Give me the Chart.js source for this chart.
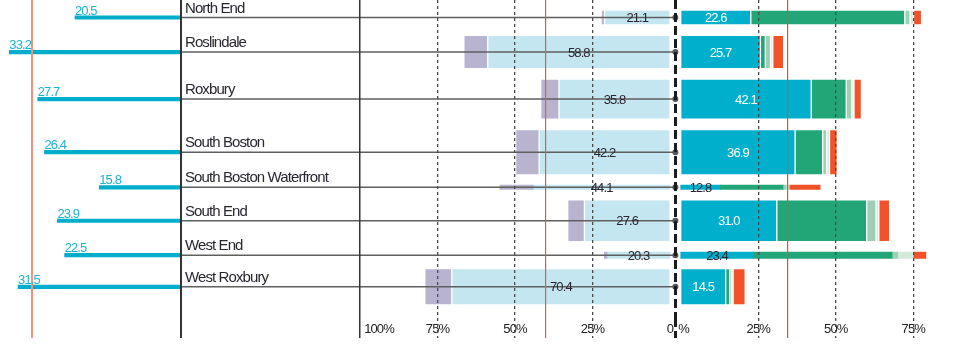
<!DOCTYPE html>
<html><head><meta charset="utf-8">
<script src="https://cdn.jsdelivr.net/npm/chart.js@4/dist/chart.umd.min.js"></script>
<style>html,body{margin:0;padding:0;background:#fff;}canvas{display:block;}</style>
</head><body>
<canvas id="c" width="968" height="355"></canvas>
<script>
// ---------------- DATA ----------------
const neighborhoods = ['North End','Roslindale','Roxbury','South Boston','South Boston Waterfront','South End','West End','West Roxbury'];
const rowWeights = [15, 33.3, 40, 45.3, 4.3, 41.7, 6.3, 36.3];       // relative row thickness
const panelValues = [20.5, 33.2, 27.7, 26.4, 15.8, 23.9, 22.5, 31.5];
const leftMain  = [21.1, 58.8, 35.8, 42.2, 44.1, 27.6, 20.3, 70.4];
const leftExtra = [1.1, 7.7, 5.9, 7.6, 10.8, 5.4, 0.9, 8.7];
const rightMain = [22.6, 25.7, 42.1, 36.9, 12.8, 31.0, 23.4, 14.5];
const rightGreen = [49.7, 1.6, 11.3, 8.9, 20.4, 29.0, 45.0, 1.3];
const rightLightGreen = [1.7, 1.7, 1.8, 1.3, 1.0, 3.0, 1.8, 0.5];
const rightPale = [1.1, 0.7, 0.7, 0.9, 1.0, 0.9, 5.0, 0.6];
const rightOrange = [2.6, 3.5, 2.4, 2.5, 9.8, 3.5, 3.9, 3.9];
const averages = [28.9, 40.1, 34.5];   // panel, left side, right side
const leftTicks = [0, 25, 50, 75, 100];
const leftTickLabels = ['0', '25%', '50%', '75%', '100%'];
const rightTicks = [0, 25, 50, 75];
const rightTickLabels = ['\u2002%', '25%', '50%', '75%'];

// ---------------- LAYOUT ----------------
const FONT = "'Liberation Sans',Arial,sans-serif";
const LETTER = '-0.9px';
const W = 968, H = 355;
const PANEL_W = 181, PANEL_MAX = 35;
const PCT_PX = 3.1, HALF_GAP = 1.73;
const MID_W = 494.35, RIGHT_W = W - PANEL_W - MID_W;
const midMax = MID_W / PCT_PX - HALF_GAP;
const rightMax = RIGHT_W / PCT_PX - HALF_GAP;
const ROW_GAP = 10.4, TOP_PAD = 10;
const AXIS_H = 37, PLOT_H = H - AXIS_H;
const Y_PX = 1; // px per y unit

const centers = [];
{ let acc = 0; rowWeights.forEach(w => { centers.push(acc + w / 2); acc += w + ROW_GAP; }); }

const COL = {
  cyan: '#00AFCC', light: '#C4E6F0', purple: '#B8B4CF', green: '#22A577',
  lgreen: '#9ED0B4', pale: '#D2EADC', orange: '#F2522A', text: '#2A2630',
  panel: '#00AECB', panelText: '#1DB1D2'
};

// ---------------- DATASETS ----------------
const datasets = [];
const rowLine = [];
centers.forEach(c => { rowLine.push({x: midMax, y: c}, {x: -HALF_GAP, y: c}, {x: null, y: null}); });
datasets.push({type: 'line', xAxisID: 'xm', yAxisID: 'y', data: rowLine, borderColor: '#5f5f5f', borderWidth: 1.5,
  pointRadius: ctx => (ctx.dataIndex % 3 === 1 ? 3 : 0), pointBackgroundColor: '#555', pointBorderWidth: 0,
  spanGaps: false, tension: 0, order: 0, clip: false});

const PANEL_DS = datasets.length;
datasets.push({type: 'bar', xAxisID: 'x', yAxisID: 'y', grouped: false, barThickness: 3.5, order: 2,
  data: centers.map((c, i) => ({x: [0, panelValues[i]], y: c})), backgroundColor: COL.panel, borderWidth: 0});

function makeRow(axis, c, segs, colors, w) {
  let acc = 0;
  const data = segs.map(v => { const d = {x: [acc, acc + v], y: c}; acc += v; return d; });
  return {type: 'bar', xAxisID: axis, yAxisID: 'y', data, backgroundColor: colors,
    borderColor: 'rgba(255,255,255,0.55)', borderWidth: w > 8 ? 1 : 0, borderSkipped: false,
    barThickness: w * Y_PX, grouped: false, order: 2};
}
const rowIdx = [];
centers.forEach((c, i) => {
  const l = datasets.length;
  datasets.push(makeRow('xm', c, [leftMain[i], leftExtra[i]], [COL.light, COL.purple], rowWeights[i]));
  const r = datasets.length;
  datasets.push(makeRow('xr', c, [rightMain[i], rightGreen[i], rightLightGreen[i], rightPale[i], rightOrange[i]],
    [COL.cyan, COL.green, COL.lgreen, COL.pale, COL.orange], rowWeights[i]));
  rowIdx.push({l, r});
});

// ---------------- AXES ----------------
function fitX(s) { s.height = AXIS_H; s.paddingLeft = 0; s.paddingRight = 0; }
function xAxis(id, weight, stackWeight, min, max, reverse, tickVals, labels, styles) {
  return {
    type: 'linear', position: 'bottom', stack: 'b', stackWeight, weight, min, max, reverse, offset: false,
    afterBuildTicks: s => { s.ticks = tickVals.map(v => ({value: v})); },
    afterFit: fitX,
    ticks: { autoSkip: false, maxRotation: 0, minRotation: 0, padding: -16, color: '#222',
      font: {family: FONT, size: 13}, callback: (v, i) => labels[i] || '' },
    grid: { z: 1, drawOnChartArea: true, drawTicks: true, tickLength: 20,
      color: c => styles[c.index].c, lineWidth: c => styles[c.index].w,
      tickColor: c => styles[c.index].c, tickWidth: c => styles[c.index].w,
      tickBorderDash: c => styles[c.index].d },
    border: { display: false, dash: c => styles[c.index].d }
  };
}
const solid = (c, w) => ({c, w, d: []});
const dotted = {c: '#4a4a4a', w: 1.3, d: [3, 3]};
const dashedBold = {c: '#1c1c1c', w: 3, d: [9, 4]};
const none = {c: 'rgba(0,0,0,0)', w: 0, d: []};

const pTicks = [0, averages[0]];
const pStyles = [solid('#333', 2), solid('#F4917B', 2)];
const mTicks = [...leftTicks, averages[1], -HALF_GAP];
const mLabels = leftTickLabels.map(t => t === '100%' ? '\u2007\u2007\u2007\u2007\u2007\u2007100%' : t);
const mStyles = [none, dotted, dotted, dotted, solid('#333', 1.5), solid('#E65A3F', 1.2), dashedBold];
const rTicks = [...rightTicks, averages[2]];
const rStyles = [none, dotted, dotted, dotted, solid('#E0532F', 1.2)];

const chart = new Chart(document.getElementById('c'), {
  type: 'bar',
  data: { datasets },
  options: {
    responsive: false, animation: false, indexAxis: 'y',
    layout: { padding: 0, autoPadding: false },
    plugins: { legend: {display: false}, tooltip: {enabled: false} },
    scales: {
      x: xAxis('x', 0, PANEL_W, 0, PANEL_MAX, true, pTicks, [], pStyles),
      xm: xAxis('xm', 1, MID_W, -HALF_GAP, midMax, true, mTicks, mLabels, mStyles),
      xr: xAxis('xr', 2, RIGHT_W, -HALF_GAP, rightMax, false, rTicks, rightTickLabels, rStyles),
      y: {
        type: 'linear', position: 'left', reverse: true, offset: false,
        min: -TOP_PAD / Y_PX, max: (PLOT_H - TOP_PAD) / Y_PX,
        afterBuildTicks: s => { s.ticks = centers.map(v => ({value: v})); },
        afterFit: s => { s.paddingTop = 0; s.paddingBottom = 0; s.width = 0; },
        ticks: { mirror: true, padding: PANEL_W + 4, labelOffset: -9, autoSkip: false,
          color: COL.text, font: {family: FONT, size: 15}, callback: (v, i) => neighborhoods[i] },
        grid: { display: false, drawTicks: false },
        border: { display: false }
      }
    }
  },
  plugins: [{
    id: 'barLabels',
    beforeDraw(ch) { ch.ctx.letterSpacing = LETTER; },
    afterDraw(ch) {
      const ctx = ch.ctx;
      ctx.save();
      ctx.letterSpacing = LETTER;
      const pm = ch.getDatasetMeta(PANEL_DS);
      ctx.font = `13px ${FONT}`;
      ctx.fillStyle = COL.panelText; ctx.textAlign = 'left'; ctx.textBaseline = 'alphabetic';
      pm.data.forEach((el, i) => {
        ctx.fillText(panelValues[i].toFixed(1), Math.min(el.x, el.base), el.y - 3);
      });
      ctx.textAlign = 'center'; ctx.textBaseline = 'middle';
      rowIdx.forEach((o, i) => {
        const le = ch.getDatasetMeta(o.l).data[0];
        ctx.fillStyle = COL.text;
        ctx.fillText(leftMain[i].toFixed(1), (le.x + le.base) / 2, le.y + 1);
        const re = ch.getDatasetMeta(o.r).data[0];
        ctx.fillStyle = rowWeights[i] > 10 ? '#ffffff' : COL.text;
        ctx.fillText(rightMain[i].toFixed(1), (re.x + re.base) / 2, re.y + 1);
      });
      ctx.restore();
    }
  }]
});
</script>
</body></html>
